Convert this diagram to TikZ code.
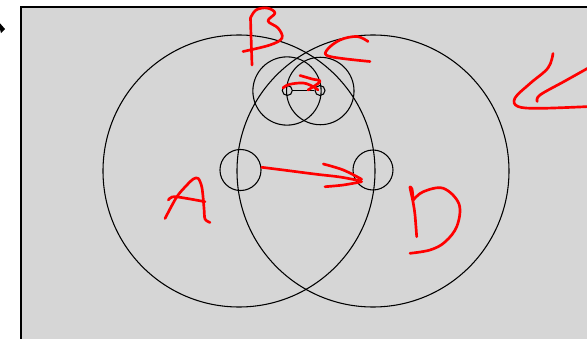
\documentclass[tikz,border=0pt]{standalone}
\definecolor{bg}{RGB}{214,214,214}
\tikzset{
  ink/.style={draw=black, line width=0.8pt},
  pen/.style={draw=red, line width=2pt, line cap=round, line join=round},
  tinyc/.style={circle, draw=black, line width=0.8pt, minimum size=7.5pt, inner sep=0pt}
}
\begin{document}
\begin{tikzpicture}[x=0.75pt,y=-0.75pt]
\useasboundingbox (0,0) rectangle (587,339);
\fill[bg] (21,7) rectangle (600,350);
\draw[black, line width=1pt] (600,7) -- (21,7) -- (21,350);
% arrow tip at left
\fill[black] (-2,21) -- (5,29) -- (1,33) -- cycle;
% big circles
\draw[ink] (239,171) circle [radius=102pt];
\draw[ink] (373,171) circle [radius=102pt];
% small circles
\draw[ink] (240.5,170) circle [radius=15.4pt];
\draw[ink] (373,170) circle [radius=15pt];
% medium circles
\draw[ink] (287,91) circle [radius=25.6pt];
\draw[ink] (320.3,91) circle [radius=25.3pt];
% tiny circles
\node[tinyc] (t1) at (287.3,90.5) {};
\node[tinyc] (t2) at (320,90.5) {};
\draw[ink] (t1.east) -- (t2.west);
% red handwriting: B
\draw[pen] plot[smooth, tension=0.6] coordinates {(252,65) (251,35) (250.5,18)};
\draw[pen] plot[smooth, tension=0.6] coordinates {(250.5,18) (256,10) (267,8) (275,13) (268,21) (278,28) (282,38) (270,45) (243,51.5)};
% C
\draw[pen] plot[smooth, tension=0.6] coordinates {(368,41.5) (357,36.5) (340,40) (327,50) (330,56.5) (370,61.5)};
% small arrow between tiny circles
\draw[pen] plot[smooth, tension=0.6] coordinates {(283,88) (289,84.5) (303,83) (313,86.5) (318,90)};
\draw[pen] plot[smooth, tension=0.6] coordinates {(300,75.5) (312,79) (320,81.5) (308,90)};
% right "<"
\draw[pen] plot[smooth, tension=0.6] coordinates {(553,53.5) (548,68) (530,83.5) (515,98) (518,106.5) (540,108.3) (590,106.5)};
\draw[pen] plot[smooth, tension=0.6] coordinates {(537.3,101.5) (540,95) (565,81) (590,67)};
% A
\draw[pen] plot[smooth, tension=0.5] coordinates {(165,218.5) (176.7,197) (186,186) (193.3,179) (198.3,178.5) (202,188) (204,208) (205,219) (210,222.5)};
\draw[pen] plot[smooth, tension=0.6] coordinates {(168.3,200) (172,197) (180,197.3) (205,201.7)};
% long arrow A -> D
\draw[pen] plot[smooth, tension=0.6] coordinates {(261.7,167.3) (283.3,170) (316.7,174.3) (340,177) (361,181)};
\draw[pen] plot[smooth, tension=0.6] coordinates {(323.3,164) (343.3,170) (361.7,179.3)};
\draw[pen] plot[smooth, tension=0.6] coordinates {(361.7,181.7) (343.3,185) (325,186.7)};
% D
\draw[pen] plot[smooth, tension=0.5] coordinates {(416.7,236.7) (415,215) (413.3,203.3) (410.5,190) (410,187) (412,189) (413.3,200)};
\draw[pen] plot[smooth, tension=0.6] coordinates {(413.3,200) (423.3,191.7) (443.3,188.3) (459,204) (457,226) (445,242) (430,250) (410,253.3)};
\end{tikzpicture}
\end{document}
